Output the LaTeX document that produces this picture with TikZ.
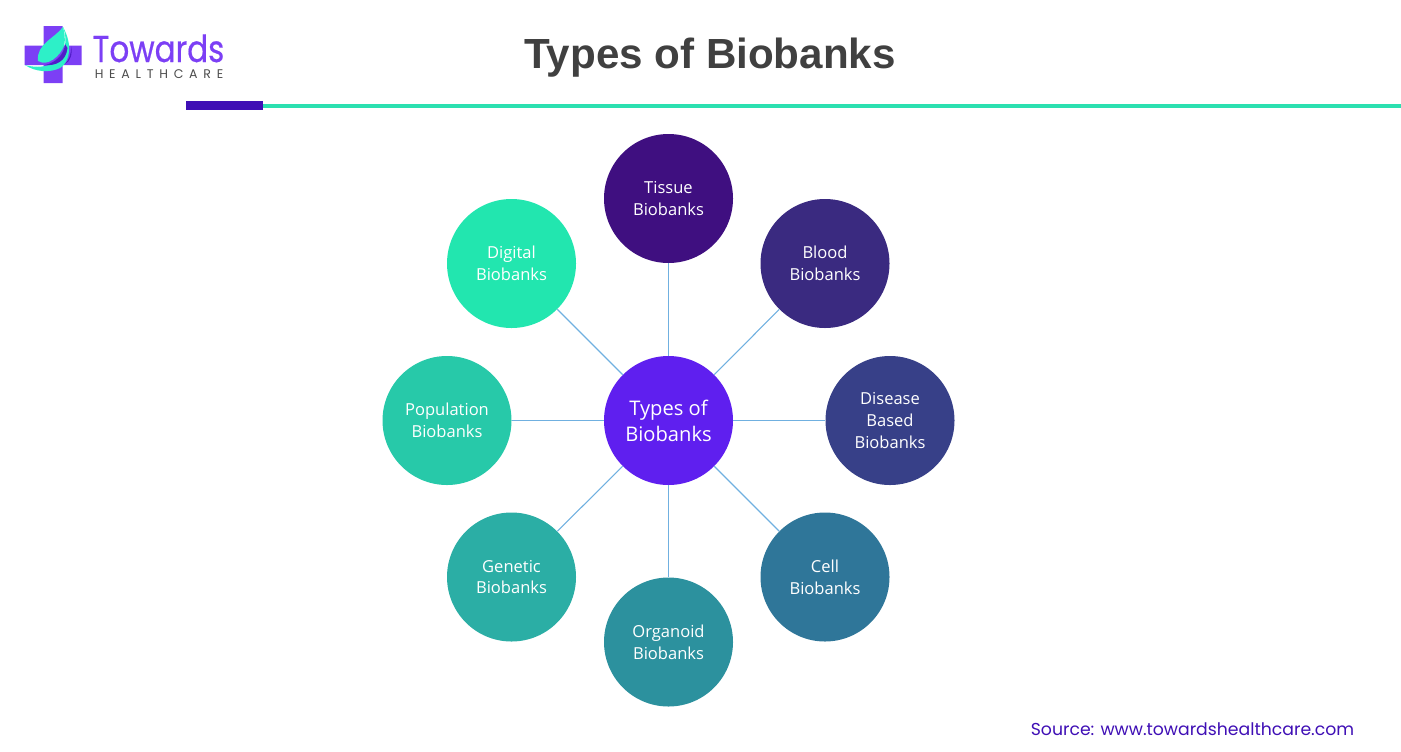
\documentclass[tikz,border=0pt]{standalone}
\usepackage{fontspec}
\setmainfont{Open Sans}
\newfontfamily\titlefont{Liberation Sans}
\newfontfamily\logofont{Poppins}
\definecolor{tissuecol}{HTML}{3F0F80}
\definecolor{bloodcol}{HTML}{3A2A80}
\definecolor{diseasecol}{HTML}{374088}
\definecolor{cellcol}{HTML}{2F7699}
\definecolor{organoidcol}{HTML}{2C919E}
\definecolor{geneticcol}{HTML}{2BAEA5}
\definecolor{populationcol}{HTML}{27C9A9}
\definecolor{digitalcol}{HTML}{22E6AF}
\definecolor{centercol}{HTML}{5F1FEF}
\definecolor{spokecol}{HTML}{70B0E0}
\definecolor{logocol}{HTML}{7C3FF5}
\definecolor{leafcol}{HTML}{2DF0C8}
\definecolor{barcol}{HTML}{3F0FB5}
\definecolor{rulecol}{HTML}{2BE0B0}
\definecolor{titlecol}{HTML}{404040}
\tikzset{
    bank/.style={circle, minimum size=96.75pt, inner sep=0pt, text=white, align=center, font=\fontsize{12.4}{16.3}\selectfont},
    spoke/.style={spokecol, line width=0.8pt}
}
\begin{document}
\begin{tikzpicture}[x=0.75pt, y=-0.75pt]
    \useasboundingbox (0,0) rectangle (1401,751);

    % header
    \node[font=\titlefont\bfseries\fontsize{31.6}{36}\selectfont, text=titlecol] (title) at (710,58) {Types of Biobanks};
    \fill[rulecol] (263,104) rectangle (1401,108);
    \fill[barcol] (186,101) rectangle (263,110);

    % logo
    \fill[logocol] (43.5,26) rectangle (62.7,83) (24.5,45.7) rectangle (81.7,65);
    \fill[leafcol] (25,65) .. controls (35,72) and (50,73) .. (60,68) .. controls (70,62) and (73,45) .. (63,27) .. controls (68,40) and (66,55) .. (52,64) .. controls (42,68) and (32,67) .. (25,65) -- cycle;
    \fill[leafcol] (63,27) .. controls (55,38) and (36,44) .. (38,61) .. controls (48,67) and (60,56) .. (64,46) .. controls (66,38) and (64,32) .. (63,27) -- cycle;
    \fill[barcol!70!logocol] (65,44) .. controls (64,55) and (55,63) .. (45,65) .. controls (55,66) and (66,62) .. (67.5,48) -- cycle;
    \fill[barcol!70!logocol] (71,46) .. controls (71.5,54) and (69,60) .. (65,64) .. controls (70,62) and (73,54) .. (71,46) -- cycle;
    \node[font=\logofont\fontsize{28}{30}\selectfont\addfontfeature{FakeStretch=0.83,FakeBold=0.5}, text=logocol, inner sep=0pt, anchor=base] (towards) at (158.5,62) {Towards};
    \node[font=\logofont\fontsize{9.4}{10}\selectfont\addfontfeature{LetterSpace=46}, text=black!70, inner sep=0pt] (healthcare) at (159,74) {HEALTHCARE};

    % circles
    \node[bank, fill=centercol, font=\fontsize{15.1}{19.6}\selectfont] (center) at (668.5,420.5) {Types of\\Biobanks};
    \node[bank, fill=tissuecol] (tissue) at (668.5,198.5) {Tissue\\Biobanks};
    \node[bank, fill=bloodcol] (blood) at (825,263.5) {Blood\\Biobanks};
    \node[bank, fill=diseasecol] (disease) at (890,420.5) {Disease\\Based\\Biobanks};
    \node[bank, fill=cellcol] (cell) at (825,577) {Cell\\Biobanks};
    \node[bank, fill=organoidcol] (organoid) at (668.5,642) {Organoid\\Biobanks};
    \node[bank, fill=geneticcol] (genetic) at (511.5,577) {Genetic\\Biobanks};
    \node[bank, fill=populationcol] (population) at (447,420.5) {Population\\Biobanks};
    \node[bank, fill=digitalcol] (digital) at (511.5,263.5) {Digital\\Biobanks};

    % spokes
    \draw[spoke] (center) -- (tissue);
    \draw[spoke] (center) -- (blood);
    \draw[spoke] (center) -- (disease);
    \draw[spoke] (center) -- (cell);
    \draw[spoke] (center) -- (organoid);
    \draw[spoke] (center) -- (genetic);
    \draw[spoke] (center) -- (population);
    \draw[spoke] (center) -- (digital);

    \node[font=\logofont\fontsize{12.95}{14}\selectfont, text=barcol, inner sep=0pt] (source) at (1192.5,729.5) {Source: www.towardshealthcare.com};
\end{tikzpicture}
\end{document}
